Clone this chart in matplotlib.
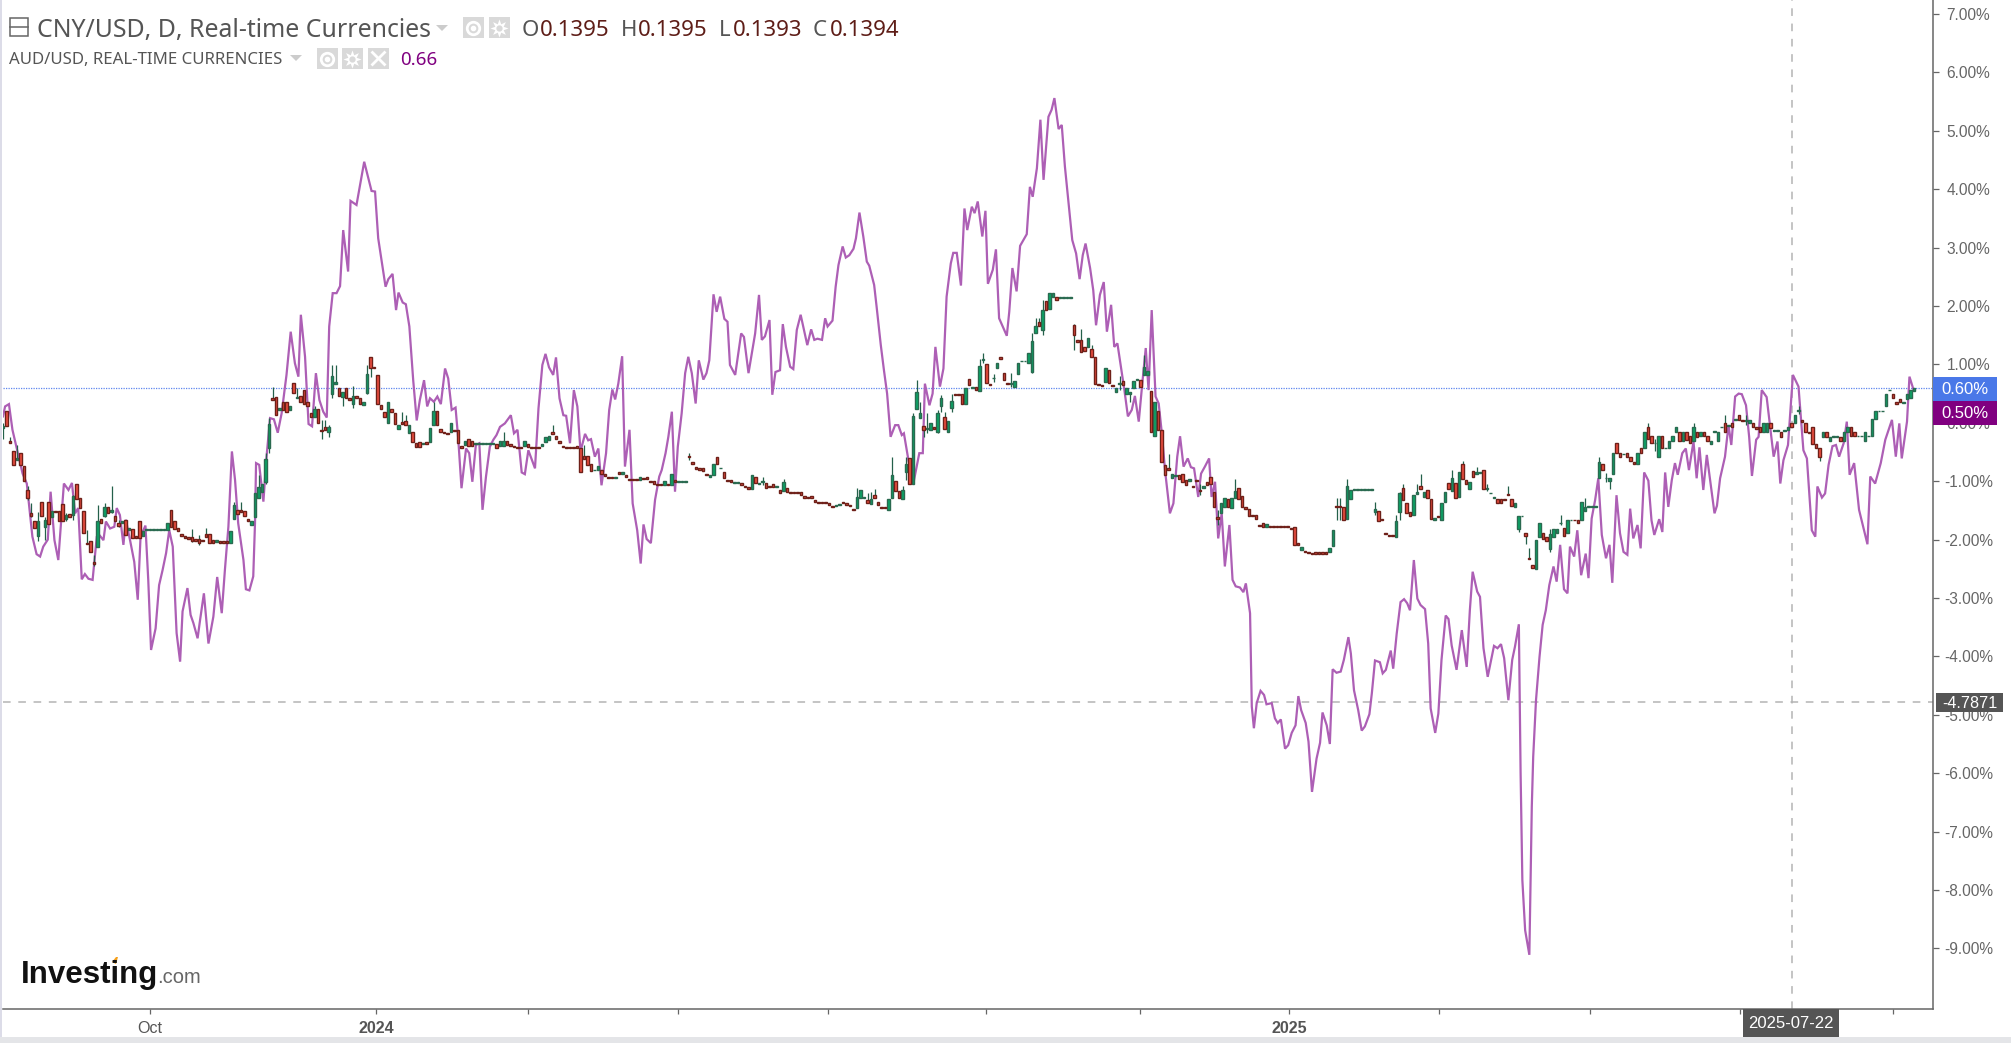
import numpy as np
import matplotlib
matplotlib.use("Agg")
import matplotlib.pyplot as plt
from matplotlib.patches import Rectangle, Polygon

plt.rcParams["font.family"] = ["Liberation Sans", "DejaVu Sans"]

# AUD/USD line, vertices: trading bar and percent
aud_bar = [
    0, .6, 1.7, 2.7, 3.7, 4.7, 5.6, 6.8, 7.5, 8.4, 9.6, 10.6, 11.5, 12.8, 13.6, 14.7, 15.8, 17.4, 18.7, 19.7,
    20.6, 21.5, 22.5, 23.4, 24.4, 25.6, 26.8, 27.5, 28.7, 29.4, 30.6, 31.8, 32.5, 33.4, 34.4, 35.1, 36.3, 37.5, 38.5, 39.3,
    40.7, 41.5, 42.3, 43.6, 44.6, 45.6, 46.6, 47.5, 48.5, 49.6, 50.6, 51.3, 52.7, 53.6, 54.4, 55.6, 56.3, 57.4, 58.7, 60.1,
    61.2, 62.5, 63.4, 64.4, 65.4, 66.3, 67.2, 68.7, 69.4, 70.4, 71.5, 72, 72.3, 73.2, 74.4, 75.3, 76.3, 77.4, 78.5, 79.6,
    81, 82.2, 83.4, 84.4, 85.1, 86.3, 87.3, 88.3, 89.4, 90.4, 91.5, 92.5, 93.2, 94.2, 95.3, 96.3, 97.2, 98.6, 99.3, 101,
    103.2, 105.3, 106.3, 107.2, 109.3, 110.1, 111.3, 112.3, 113, 114.2, 115.1, 116.1, 117.2, 118.2, 119.1, 120.3, 121.2, 122, 123.1, 124.1,
    125.1, 126.3, 127.2, 128.2, 129.3, 130.1, 131, 132.3, 133.2, 134.1, 135.1, 136.1, 137, 138, 139.1, 140.1, 141, 142, 143.4, 145.1,
    146, 147, 148.2, 149.1, 150.1, 152, 153, 154.1, 155, 156, 157.2, 158, 159, 160.1, 160.9, 162, 163.1, 164.1, 165, 166.3,
    167.2, 168, 169.1, 170.1, 171, 172.3, 173.2, 174.1, 174.9, 175.8, 176.9, 177.7, 179, 179.9, 181.2, 182.2, 183, 183.9, 185.1, 186.3,
    187.5, 188.2, 189.3, 190.1, 191.1, 192, 192.8, 193.9, 194.9, 195.8, 196.8, 197.9, 198.8, 200.1, 201, 201.8, 203, 203.9, 204.9, 206.1,
    207, 207.7, 209.2, 210.9, 211.7, 213, 214.9, 216, 216.8, 217.7, 219, 219.8, 220.7, 222, 222.8, 223.7, 224.9, 225.8, 226.8, 227.9,
    229.8, 230.9, 231.8, 232.7, 234, 234.9, 235.6, 237, 237.9, 238.7, 239.9, 240.8, 241.8, 243, 243.7, 244.7, 245.8, 246.8, 247.5, 248.9,
    249.6, 250.8, 251.7, 252.6, 253.6, 254.9, 255.8, 256.8, 257.4, 258.7, 260.1, 261.8, 262.8, 263.4, 264.7, 265.6, 266.4, 267.7, 268.7, 269.6,
    270.8, 271.5, 272.5, 273.7, 274.7, 275.5, 276.8, 277.6, 278.5, 279.8, 280.7, 281.4, 282.8, 283.7, 284.6, 286.8, 287.5, 288.4, 289.6, 290.6,
    292.5, 293.4, 294.2, 295.4, 296.4, 297.3, 298.7, 299.6, 300.4, 301.6, 302.5, 303.4, 305.5, 306.6, 307.6, 308.5, 309.3, 310.6, 311.5, 312.3,
    313.4, 314.5, 315.4, 316.6, 317.5, 318.4, 320.4, 321.4, 322.5, 323.4, 324.5, 325.6, 326.5, 327.3, 328.2, 329.3, 330.2, 331.1, 332, 333.4,
    334.4, 335.5, 336.3, 337.3, 338.5, 339.4, 340.3, 341.5, 342.3, 343.4, 344.6, 345.3, 346.3, 347.2, 348.2, 349.1, 350.4, 351.3, 352.2, 353.4,
    354.4, 355.1, 356.3, 356.8, 357.4, 358.2, 359.3, 360.3, 361, 362.5, 363.4, 364.2, 365.1, 366.3, 367.2, 368.2, 369.3, 370.1, 370.9, 372.2,
    373, 374, 375.3, 376.3, 377, 378.2, 379.1, 379.9, 381, 382.2, 383.1, 384.4, 385.1, 386, 387.2, 388.2, 389.1, 390.4, 391.1, 392,
    393.4, 394.2, 395.1, 396.5, 397.2, 398.2, 399.3, 400.3, 401.2, 402, 403.1, 404.1, 405, 406.3, 407.2, 407.9, 409.2, 410.1, 411, 412.2,
    413, 413.9, 415.3, 416.8, 418.2, 419.1, 419.9, 421.2, 422, 423, 424.2, 426, 427, 428, 428.9, 430.1, 431.2, 432, 433.1, 433.6,
    434.1, 434.9, 436.1, 436.8, 437.2, 438, 439, 439.9, 440.8, 441.8, 443, 443.9, 444.9, 446, 447, 447.7, 448.9, 449.8, 450.9, 452.2,
    453, 453.9, 454.9, 455.8, 456.8, 458, 459, 459.8, 461, 462, 463, 464.1, 464.9, 465.8, 467, 467.9, 468.9, 470.1, 471, 471.8,
    473.2, 474.1, 474.9, 475.8, 476.8, 477.7, 478.5, 479.8, 480.8, 481.7, 483, 483.9, 484.7, 485.8, 486.8, 489, 489.7, 490.6, 492, 493,
    493.8, 494.9, 495.9, 496.8, 498, 498.9, 499.7, 500.9, 501.6, 502.5, 503.9, 505.9, 507, 507.8, 508.7, 510, 511.4, 513, 514.4, 515.4,
    516.8, 517.8, 518.4, 519.7, 520.6, 521.6, 522.7, 523.7, 524.6, 525.9, 526.8, 527.6, 528.9, 530.3, 532.7, 533.5, 534.9, 536.5, 537.8, 539.7,
    540.8, 541.8, 542.5, 544, 544.7, 545.9,
]
aud_pct = [
    .11, .28, .32, -.12, -.38, -.64, -.87, -1.04, -1.44, -1.95, -2.25, -2.29, -2.12, -2.0, -1.18, -2.01, -2.35, -1.04, -1.15, -1.03,
    -1.55, -1.46, -2.68, -2.59, -2.67, -2.69, -1.95, -1.92, -2.01, -1.69, -1.81, -1.78, -1.46, -1.58, -2.09, -1.66, -2.01, -2.38, -3.03, -1.95,
    -1.76, -2.69, -3.89, -3.52, -2.78, -2.52, -2.23, -1.84, -2.12, -3.6, -4.09, -3.23, -2.83, -3.29, -3.43, -3.69, -3.38, -2.92, -3.78, -3.32,
    -2.64, -3.26, -2.52, -1.78, -.49, -.98, -1.72, -2.35, -2.85, -2.87, -2.63, -1.72, -.69, -.72, -1.35, -.58, .08, .06, -.17, .16,
    .82, 1.56, 1.02, .79, 1.85, 1.13, -.02, -.06, .85, .39, .19, .09, 1.65, 2.22, 2.22, 2.34, 3.3, 2.59, 3.8, 3.73,
    4.47, 3.97, 3.96, 3.16, 2.33, 2.46, 2.55, 1.93, 2.23, 2.06, 2.03, 1.65, .73, .04, .39, .73, .28, .42, .36, .45,
    .32, .93, .76, .22, .26, -.3, -1.12, -.44, -.52, -1.01, -.38, -.35, -1.49, -.92, -.41, -.29, -.21, -.07, -.01, .13,
    -.18, -.12, -.85, -.88, -.47, -.78, .25, .99, 1.18, .95, .82, 1.12, .42, .13, .12, -.35, .56, .28, -.49, -.19,
    -.3, -.28, -.58, -.44, -1.07, -.52, .22, .57, .4, .67, 1.14, -.75, -.12, -1.38, -1.84, -2.41, -1.74, -1.99, -2.06, -1.32,
    -.92, -.81, -.52, -.24, .19, -1.18, -.41, .16, .85, 1.13, .85, .33, 1.07, .74, .85, 1.07, 2.2, 1.9, 2.16, 1.78,
    1.73, .99, .82, 1.53, 1.47, .85, 1.53, 2.19, 1.42, 1.48, 1.76, .48, .87, .9, 1.69, 1.3, .96, .92, 1.59, 1.85,
    1.33, 1.6, 1.42, 1.44, 1.42, 1.79, 1.65, 1.75, 2.33, 2.7, 3.02, 2.83, 2.87, 2.98, 3.16, 3.6, 3.19, 2.76, 2.69, 2.36,
    1.99, 1.33, .9, .5, -.24, -.04, -.04, -.21, -.18, -.64, -1.04, -.52, -.52, .67, .3, .5, 1.3, .62, .93, 2.16,
    2.73, 2.91, 2.91, 2.35, 3.67, 3.3, 3.7, 3.59, 3.79, 3.19, 3.63, 2.38, 2.62, 2.97, 1.79, 1.49, 1.9, 2.65, 2.25, 3.03,
    3.23, 4.04, 3.87, 4.36, 5.19, 4.16, 5.24, 5.36, 5.56, 5.03, 5.1, 4.39, 3.13, 2.9, 2.46, 2.87, 3.07, 2.65, 2.27, 1.67,
    2.19, 2.41, 1.56, 2.02, 1.3, 1.36, .56, .11, .22, .46, .02, .73, 1.28, .56, 1.93, .45, .33, -.18, -.81, -1.55,
    -1.38, -.58, -.23, -.75, -.61, -.76, -.78, -1.27, -.87, -.75, -.61, -1.27, -1.01, -1.98, -1.55, -2.46, -1.75, -2.69, -2.8, -2.82,
    -2.9, -2.75, -3.26, -4.86, -5.23, -4.8, -4.59, -4.66, -4.82, -4.8, -5.06, -5.14, -5.08, -5.58, -5.52, -5.31, -5.18, -4.68, -4.92, -5.14,
    -5.46, -6.32, -5.75, -5.48, -4.96, -5.18, -5.5, -4.22, -4.28, -4.26, -4.06, -3.67, -3.95, -4.58, -4.92, -5.27, -5.2, -4.99, -4.63, -4.07,
    -4.1, -4.29, -4.23, -3.9, -4.21, -3.61, -3.07, -3.02, -3.09, -3.21, -2.35, -3.01, -3.12, -3.19, -3.78, -4.89, -5.31, -4.98, -4.06, -3.3,
    -3.36, -3.81, -4.23, -3.55, -4.18, -3.21, -2.55, -2.89, -2.98, -3.86, -4.35, -3.82, -3.86, -3.79, -4.03, -4.75, -4.06, -3.83, -3.45, -6.0,
    -7.83, -8.69, -9.11, -6.57, -5.72, -4.75, -4.01, -3.46, -3.21, -2.78, -2.46, -2.72, -2.09, -2.85, -2.92, -2.12, -2.29, -1.84, -2.61, -2.24,
    -2.66, -1.64, -1.32, -.95, -1.92, -2.32, -2.09, -2.74, -1.24, -1.89, -2.21, -2.26, -1.47, -1.98, -1.75, -2.15, -.85, -.99, -1.67, -1.92,
    -1.65, -1.87, -.85, -1.44, -.98, -.69, -.89, -.52, -.44, -.81, -.32, -.95, -.42, -1.15, -.55, -1.55, -1.42, -.95, -.58, -.04,
    -.38, .45, .5, .49, .3, -.24, -.91, -.29, -.24, .56, .44, -.58, -.32, -1.04, -.64, -.38, .82, .62, -.47, -.61,
    -1.84, -1.95, -1.09, -1.28, -1.21, -.72, -.4, -.38, -.58, -.35, .02, -.89, -.69, -1.49, -2.08, -.92, -1.04, -.69, -.29, .05,
    -.58, -.01, -.61, .02, .79, .56,
]

# CNY/USD daily candles in percent, one pair per trading bar
cny_open = [
    -.09, .21, -.31, -.48, -.64, -.51, -.74, -1.15, -1.54, -1.69,
    -1.93, -1.36, -1.78, -1.36, -1.61, -1.51, -1.51, -1.39, -1.64, -1.57,
    -1.58, -1.05, -1.28, -1.51, -2.05, -2.02, -2.38, -2.12, -1.64, -1.59,
    -1.44, -1.53, -1.59, -1.72, -1.72, -1.66, -1.84, -1.81, -1.93, -1.69,
    -1.93, -1.83, -1.83, -1.83, -1.83, -1.83, -1.83, -1.84, -1.49, -1.69,
    -1.8, -1.9, -1.93, -1.95, -1.96, -1.99, -1.99, -2.0, -1.9, -1.9,
    -2.0, -2.04, -2.03, -2.02, -2.02, -2.05, -1.64, -1.5, -1.5, -1.51,
    -1.64, -1.75, -1.62, -1.28, -1.18, -1.02, -.44, .42, .44, .22,
    .36, .36, .22, .69, .42, .46, .57, .36, .16, .1,
    .23, -.12, -.08, -.15, .49, .67, .59, .45, .6, .42,
    .33, .46, .43, .3, .51, 1.13, .96, .82, .31, .18,
    0, .23, .16, -.1, .01, .03, -.18, -.15, -.35, -.33,
    -.36, -.33, -.33, -.04, .21, -.11, -.15, -.18, -.15, -.12,
    -.12, -.39, -.38, -.28, -.31, -.36, -.36, -.36, -.36, -.36,
    -.36, -.36, -.39, -.39, -.31, -.36, -.4, -.41, -.42, -.4,
    -.36, -.42, -.42, -.42, -.39, -.33, -.3, -.15, -.23, -.31,
    -.39, -.41, -.42, -.42, -.39, -.43, -.56, -.56, -.7, -.81,
    -.81, -.8, -.88, -.92, -.92, -.94, -.84, -.87, -.89, -.96,
    -.96, -.96, -.98, -.95, -.92, -.99, -1.0, -1.05, -1.05, -1.06,
    -1.05, -1.07, -.98, -1.01, -1.01, -1.01, -.56, -.67, -.75, -.78,
    -.77, -.88, -.93, -.9, -.59, -.78, -.84, -.98, -.98, -1.03,
    -1.03, -1.03, -1.08, -1.1, -1.13, -.92, -1.05, -1.02, -1.03, -1.08,
    -1.05, -1.1, -1.15, -1.17, -1.11, -1.19, -1.19, -1.19, -1.19, -1.26,
    -1.27, -1.26, -1.33, -1.35, -1.36, -1.35, -1.38, -1.42, -1.42, -1.4,
    -1.36, -1.38, -1.41, -1.47, -1.46, -1.28, -1.28, -1.33, -1.39, -1.23,
    -1.36, -1.44, -1.44, -1.49, -1.29, -1.0, -1.17, -1.3, -.85, -.61,
    -1.05, .23, .08, -.05, -.1, -.12, -.07, -.16, .28, .1,
    -.15, .26, .5, .5, .5, .33, .75, .6, .62, .55,
    1.08, 1.0, .66, .76, .93, 1.12, .86, .69, .67, .62,
    .84, 1.05, 1.05, 1.02, .87, 1.53, 1.73, 1.59, 2.09, 1.95,
    2.16, 2.16, 2.14, 2.14, 2.14, 2.14, 1.67, 1.41, 1.41, 1.3,
    1.3, 1.26, 1.13, .66, .65, .7, .9, .65, .52, .67,
    .72, .49, .5, .59, .74, .74, .82, .82, .55, -.23,
    .21, -.13, -.72, -.77, -.95, -.91, -.89, -.88, -.98, -1.0,
    -1.08, -.98, -1.15, -1.11, -1.01, -.92, -1.18, -1.62, -1.55, -1.44,
    -1.31, -1.46, -1.29, -1.11, -1.25, -1.45, -1.47, -1.58, -1.58, -1.75,
    -1.72, -1.78, -1.77, -1.77, -1.77, -1.77, -1.77, -1.77, -1.8, -1.79,
    -2.05, -2.18, -2.2, -2.21, -2.23, -2.22, -2.22, -2.22, -2.22, -2.22,
    -2.11, -1.43, -1.43, -1.44, -1.65, -1.31, -1.15, -1.15, -1.15, -1.15,
    -1.15, -1.15, -1.52, -1.51, -1.65, -1.88, -1.92, -1.92, -1.95, -1.52,
    -1.11, -1.38, -1.52, -1.58, -1.22, -1.08, -1.27, -1.15, -1.31, -1.67,
    -1.6, -1.67, -1.36, -1.03, -1.16, -1.03, -1.27, -.71, -.98, -1.13,
    -.82, -.87, -.86, -.8, -1.13, -1.21, -1.28, -1.31, -1.31, -1.31,
    -1.22, -1.31, -1.44, -1.81, -1.6, -1.88, -2.32, -2.44, -2.51, -1.96,
    -1.88, -1.95, -2.16, -1.95, -1.88, -1.72, -1.8, -1.89, -1.67, -1.66,
    -1.67, -1.67, -1.51, -1.44, -1.44, -1.44, -.95, -.71, -.95, -.99,
    -.87, -.35, -.51, -.54, -.51, -.59, -.67, -.71, -.44, -.44,
    -.07, -.22, -.35, -.59, -.23, -.44, -.44, -.31, -.16, -.15,
    -.31, -.15, -.22, -.31, -.15, -.23, -.15, -.23, -.36, -.15,
    -.31, -.08, 0, -.05, 0, .05, .13, .05, .03, 0,
    0, -.08, -.08, -.15, -.15, 0, -.14, -.14, -.15, -.14,
    -.13, 0, 0, .21, .05, 0, -.15, -.07, -.36, -.44,
    -.24, -.15, -.31, -.24, -.24, -.24, -.31, -.15, -.08, -.15,
    -.23, -.23, -.31, -.23, -.23, .06, .2, .2, .28, .56,
    .49, .35, .41, .34, .41, .42, .55,
]
cny_close = [
    -.05, -.05, -.35, -.72, -.61, -.72, -1.0, -1.29, -1.6, -1.8,
    -1.69, -1.59, -1.66, -1.74, -1.51, -1.53, -1.69, -1.69, -1.58, -1.62,
    -1.25, -1.31, -1.46, -1.88, -2.08, -2.21, -2.41, -1.69, -1.72, -1.44,
    -1.54, -1.49, -1.69, -1.77, -1.68, -1.92, -1.8, -1.97, -1.97, -1.97,
    -1.85, -1.82, -1.82, -1.82, -1.82, -1.82, -1.82, -1.72, -1.78, -1.81,
    -1.85, -1.93, -1.97, -1.99, -2.02, -2.02, -2.05, -2.03, -1.95, -2.05,
    -2.05, -2.0, -2.05, -2.05, -2.05, -1.85, -1.41, -1.56, -1.52, -1.59,
    -1.68, -1.68, -1.21, -1.1, -1.05, -.62, -.02, .39, .13, .26,
    .22, .19, .29, .51, .45, .36, .33, .29, .1, .23,
    0, -.14, -.12, -.08, .8, .7, .46, .52, .42, .39,
    .46, .43, .33, .36, .83, .93, .94, .32, .23, .1,
    .36, .18, -.02, -.04, -.02, -.03, -.04, -.33, -.41, -.41,
    -.34, -.36, -.09, .21, -.04, -.15, -.18, -.2, 0, -.14,
    -.35, -.44, -.32, -.39, -.4, -.35, -.35, -.35, -.35, -.35,
    -.35, -.44, -.31, -.31, -.38, -.4, -.42, -.43, -.44, -.31,
    -.41, -.44, -.44, -.44, -.36, -.25, -.23, -.2, -.28, -.35,
    -.41, -.43, -.44, -.44, -.43, -.85, -.62, -.72, -.82, -.8,
    -.74, -.87, -.91, -.94, -.94, -.93, -.87, -.84, -.92, -.98,
    -.98, -.98, -.92, -.97, -.97, -1.02, -1.05, -1.07, -1.07, -1.0,
    -1.07, -.88, -1.02, -1.0, -1.0, -1.0, -.59, -.71, -.79, -.8,
    -.82, -.9, -.89, -.71, -.71, -.77, -.95, -1.0, -1.02, -1.02,
    -1.02, -1.07, -1.1, -1.13, -.89, -1.03, -1.03, -1.0, -1.11, -1.1,
    -1.1, -1.09, -1.2, -1.02, -1.18, -1.21, -1.21, -1.21, -1.24, -1.28,
    -1.29, -1.29, -1.35, -1.37, -1.38, -1.37, -1.4, -1.44, -1.41, -1.39,
    -1.38, -1.4, -1.43, -1.49, -1.27, -1.15, -1.27, -1.38, -1.31, -1.28,
    -1.41, -1.46, -1.46, -1.3, -.89, -1.16, -1.28, -1.15, -.71, -1.05,
    .12, .52, .16, -.12, -.09, 0, -.11, .16, .42, -.1,
    .03, .38, .48, .48, .32, .59, .64, .61, .57, .98,
    1.09, .69, .64, .77, 1.03, 1.1, .74, .67, .69, .71,
    1.03, 1.06, 1.06, 1.2, 1.4, 1.65, 1.65, 1.93, 1.93, 2.23,
    2.23, 2.11, 2.15, 2.15, 2.15, 2.15, 1.51, 1.39, 1.21, 1.23,
    1.45, 1.13, .66, .64, .63, .93, .68, .63, .59, .68,
    .64, .59, .52, .72, .75, .62, .95, .88, -.15, .36,
    -.13, -.67, -.9, -.81, -.87, -.9, -.97, -1.01, -1.07, -.97,
    -1.1, -1.0, -1.17, -1.09, -1.07, -1.05, -1.44, -1.64, -1.37, -1.29,
    -1.45, -1.28, -1.16, -1.31, -1.44, -1.47, -1.6, -1.6, -1.64, -1.77,
    -1.79, -1.74, -1.79, -1.79, -1.79, -1.79, -1.79, -1.79, -1.82, -2.1,
    -2.1, -2.13, -2.22, -2.23, -2.25, -2.24, -2.24, -2.24, -2.24, -2.15,
    -1.84, -1.45, -1.45, -1.67, -1.08, -1.15, -1.14, -1.14, -1.14, -1.14,
    -1.14, -1.14, -1.47, -1.68, -1.67, -1.9, -1.94, -1.94, -1.69, -1.2,
    -1.33, -1.54, -1.6, -1.24, -1.18, -1.13, -1.18, -1.29, -1.65, -1.63,
    -1.62, -1.37, -1.18, -1.14, -.95, -1.29, -.85, -.97, -1.05, -1.01,
    -.92, -.84, -.85, -1.13, -1.12, -1.2, -1.27, -1.38, -1.37, -1.33,
    -1.24, -1.42, -1.38, -1.6, -1.59, -1.93, -2.34, -2.49, -2.0, -1.72,
    -1.99, -2.02, -1.9, -1.82, -1.81, -1.71, -1.94, -1.67, -1.66, -1.67,
    -1.72, -1.36, -1.44, -1.43, -1.43, -1.43, -.67, -.8, -.94, -.95,
    -.51, -.51, -.59, -.53, -.58, -.65, -.71, -.51, -.51, -.15,
    -.27, -.35, -.34, -.22, -.44, -.43, -.31, -.22, -.07, -.31,
    -.15, -.29, -.35, -.08, -.24, -.15, -.23, -.31, -.31, -.14,
    -.15, -.07, -.15, -.04, -.08, .06, .05, .03, .04, .05,
    -.08, -.1, -.15, 0, 0, -.09, -.13, -.13, -.24, -.13,
    -.08, -.08, .13, .22, .01, -.15, -.17, -.36, -.44, -.59,
    -.15, -.24, -.25, -.23, -.23, -.31, -.15, -.07, -.23, -.23,
    -.22, -.22, -.15, -.22, .06, .21, .21, .21, .49, .57,
    .42, .33, .35, .35, .49, .56, .59,
]

# wicks that stand out from the bodies
wick_bar = [
    0, 2, 4, 7, 8, 10, 12, 18, 20, 24, 26, 27, 29, 31, 33, 54, 56, 58, 66, 68,
    73, 75, 76, 77, 84, 89, 91, 92, 93, 94, 95, 97, 100, 104, 105, 114, 115, 123, 143, 157,
    166, 196, 217, 223, 244, 247, 248, 249, 254, 257, 258, 260, 261, 262, 263, 264, 267, 268, 269, 271,
    279, 280, 283, 288, 294, 295, 296, 297, 306, 308, 311, 319, 322, 326, 333, 342, 347, 352, 381, 382,
    384, 392, 398, 399, 400, 404, 405, 414, 417, 421, 424, 430, 433, 435, 436, 442, 445, 452, 456, 458,
    459, 470, 472, 483, 492, 498, 513, 519,
]
wick_high = [
    -.01, -.24, -.38, -1.09, -1.38, -1.52, -1.61, -1.55, -1.24, -1.84, -2.26, -1.41, -1.38, -1.09, -1.66, -1.81, -1.92, -1.8, -1.35, -1.35,
    -.9, -.51, .08, .61, .59, .29, .05, .05, -.04, .99, .99, .52, .63, .99, 1.13, .19, .13, .36, -.15, -.04,
    -.38, -.51, -.92, -.96, -1.12, -1.21, -1.18, -1.14, -.58, -1.08, -.58, .16, .73, .36, -.05, .16, .22, .48, .19, .5,
    1.09, 1.19, .83, .85, 1.53, 1.79, 1.79, 2.1, 1.7, 1.6, 1.33, .8, .52, 1.16, -.53, -1.04, -1.49, -.97, -1.29, -1.29,
    -.97, -1.35, -1.58, -1.18, -1.04, -1.04, -.87, -.81, -.65, -.75, -1.04, -1.08, -1.6, -1.88, -2.15, -1.81, -1.58, -1.29, -.58, -.86,
    -.95, 0, -.27, 0, .14, .14, .29, -.44,
]
wick_low = [
    -.27, -.35, -.64, -1.32, -1.61, -2.03, -2.01, -1.69, -1.66, -2.08, -2.46, -2.12, -1.61, -1.55, -1.78, -2.04, -2.1, -1.95, -1.64, -1.52,
    -1.29, -1.04, -.52, .39, .42, .1, -.27, -.12, -.24, .42, .67, .29, .25, .5, .79, -.02, -.03, -.04, -.39, -.2,
    -.62, -.64, -1.07, -1.17, -1.46, -1.38, -1.39, -1.28, -1.29, -1.3, -.98, -1.05, .23, .08, -.24, -.18, -.18, .19, -.1, .19,
    .55, 1.02, .7, .62, .85, 1.53, 1.65, 1.5, 1.25, 1.21, 1.13, .56, .36, .82, -.81, -1.24, -1.75, -1.29, -1.67, -1.67,
    -1.65, -1.58, -1.95, -1.66, -1.33, -1.22, -1.13, -1.16, -.97, -.87, -1.16, -1.24, -1.87, -2.07, -2.34, -2.21, -1.75, -1.51, -.95, -1.01,
    -1.14, -.27, -.49, -.31, -.15, -.04, .15, -.65,
]

y_ticks = [7, 6, 5, 4, 3, 2, 1, 0, -1, -2, -3, -4, -5, -6, -7, -8, -9]
x_tick_bars = [42, 106.6, 150, 192.9, 235.7, 280.9, 324.9, 367.4, 410.3, 453.4, 496.3, 540]
x_tick_labels = ["Oct", "2024", "", "", "", "", "", "2025", "", "", "", ""]
x_tick_bold = ["2024", "2025"]
last_cny = 0.59
crosshair_bar = 511.1
crosshair_pct = -4.7871

GREEN = "#0aa566"
RED = "#ef4f40"
GREEN_EDGE = "#2a6a50"
RED_EDGE = "#6e2019"
AXIS = "#666666"

fig = plt.figure(figsize=(20.11, 10.43), dpi=100)
fig.patch.set_facecolor("white")
ax = fig.add_axes([3 / 2011, 34 / 1043, 1930 / 2011, 1009 / 1043])
ax.set_xlim(0, 1930 / 3.5)
ax.set_ylim((422.8 - 1009) / 58.4, 422.8 / 58.4)

# guide lines
ax.axhline(last_cny, color="#5f86ee", lw=0.9, ls=(0, (1, 1)), zorder=1)
ax.axhline(crosshair_pct, color="#b4b4b4", lw=1.1, ls=(0, (5, 5)), zorder=1)
ax.axvline(crosshair_bar, color="#b4b4b4", lw=1.1, ls=(0, (5, 5)), zorder=1)

ax.plot(aud_bar, aud_pct, color="#ad5fb5", lw=1.6, zorder=2, solid_joinstyle="miter")

# candles
cny_bar = np.arange(len(cny_open))
o = np.array(cny_open)
c = np.array(cny_close)
up = c >= o
ax.vlines(wick_bar, wick_low, wick_high, color="#24604a", lw=0.9, zorder=3)
ax.bar(cny_bar[up], (c - o)[up], bottom=o[up], width=0.78, color=GREEN,
       edgecolor=GREEN_EDGE, lw=1.0, zorder=4)
ax.bar(cny_bar[~up], (c - o)[~up], bottom=o[~up], width=0.78, color=RED,
       edgecolor=RED_EDGE, lw=1.0, zorder=4)

# axes
for side in ["top", "left"]:
    ax.spines[side].set_visible(False)
for side in ["right", "bottom"]:
    ax.spines[side].set_color(AXIS)
    ax.spines[side].set_linewidth(1.1)
ax.yaxis.tick_right()
ax.set_yticks(y_ticks)
ax.set_yticklabels([f"{v:.2f}%" for v in y_ticks], fontsize=11.2, color="#666666", ha="center")
ax.tick_params(axis="y", length=4.5, width=0.9, color=AXIS, pad=21)
ax.set_xticks(x_tick_bars)
ax.set_xticklabels(x_tick_labels, fontsize=11.6, color="#555555")
for lab in ax.get_xticklabels():
    if lab.get_text() in x_tick_bold:
        lab.set_fontweight("bold")
ax.tick_params(axis="x", length=3.5, width=0.9, color=AXIS, pad=5)

# page furniture, in picture pixels
ov = fig.add_axes([0, 0, 1, 1], zorder=10)
ov.set_xlim(0, 2011)
ov.set_ylim(1043, 0)
ov.axis("off")
ov.patch.set_alpha(0)

ov.add_patch(Rectangle((0, 1037), 2011, 6, color="#e4e5e8", lw=0))
ov.add_patch(Rectangle((0, 0), 2, 1037, color="#dcdce8", lw=0))


def tag(x0, x1, y0, y1, color, text, size=11.6):
    ov.add_patch(Rectangle((x0, y0), x1 - x0, y1 - y0, color=color, lw=0))
    ov.text((x0 + x1) / 2, (y0 + y1) / 2 + 0.5, text, color="white",
            fontsize=size, ha="center", va="center")


tag(1933, 1997, 377, 401, "#4a78e8", "0.60%", 12)
tag(1933, 1997, 401, 425, "#800080", "0.50%", 12)
tag(1936, 2003, 693, 712, "#555555", "-4.7871")
tag(1743, 1839, 1009, 1037, "#555555", "2025-07-22", 12)


def icon(x0, y0, kind, size=21):
    ov.add_patch(Rectangle((x0, y0), size, size, color="#d9d9d9", lw=0))
    cx, cy = x0 + size / 2, y0 + size / 2
    if kind == "eye":
        ov.plot(cx, cy, "o", ms=9, mfc="none", mec="white", mew=2)
        ov.plot(cx, cy, "o", ms=3, color="white")
    elif kind == "gear":
        ov.plot(cx, cy, marker=(8, 1, 0), ms=13, color="white", mew=0)
        ov.plot(cx, cy, "o", ms=3.5, color="#d9d9d9")
    else:
        ov.plot([cx - 6, cx + 6], [cy - 6, cy + 6], color="white", lw=2)
        ov.plot([cx - 6, cx + 6], [cy + 6, cy - 6], color="white", lw=2)


def caret(x0, y):
    ov.add_patch(Polygon([(x0, y - 3), (x0 + 12, y - 3), (x0 + 6, y + 3)], color="#cccccc", lw=0))


# header row 1
ov.add_patch(Rectangle((10, 18), 18, 18, fc="none", ec="#666666", lw=1.1))
ov.plot([10, 28], [27, 27], color="#666666", lw=1.1)
ov.text(37, 30, "CNY/USD, D, Real-time Currencies", fontsize=17.9, color="#555555",
        family="Noto Sans", va="center")
caret(436, 28)
icon(463, 17, "eye")
icon(489, 17, "gear")
for x, letter in zip([522, 621, 719, 813], "OHLC"):
    ov.text(x, 31, letter, fontsize=16, color="#555555", family="Noto Sans", va="center")
for x, val in zip([540, 638, 733, 830], ["0.1395", "0.1395", "0.1393", "0.1394"]):
    ov.text(x, 31, val, fontsize=16, color="#5e1d17", family="Noto Sans", va="center")

# header row 2
ov.text(9, 60, "AUD/USD, REAL-TIME CURRENCIES", fontsize=12.1, color="#555555",
        family="Noto Sans", va="center")
caret(290, 58)
icon(317, 48, "eye")
icon(342, 48, "gear")
icon(368, 48, "x")
ov.text(400, 60, "0.66", fontsize=13.5, color="#800080", family="Noto Sans", va="center")

# logo
ov.text(21, 983, "Investing", fontsize=22.5, fontweight="bold", color="#111111", va="baseline")
ov.text(157, 983, ".com", fontsize=14.5, color="#666666", va="baseline")
ov.add_patch(Polygon([(112, 962), (116, 957), (118, 957), (116, 964)], color="#f5a01c", lw=0))

fig.savefig("out.png", dpi=100)
